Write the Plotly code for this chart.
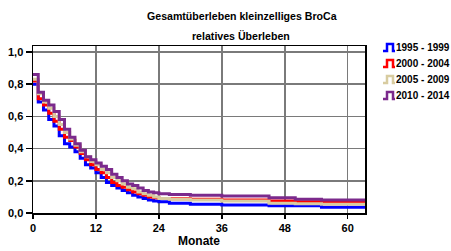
import plotly.graph_objects as go

series_names = ["1995 - 1999", "2000 - 2004", "2005 - 2009", "2010 - 2014"]
series_colors = ["#0000FF", "#FF0000", "#D8CCA0", "#7B2A8C"]

months = [0, 1, 2, 3, 4, 5, 6, 7, 8, 9, 10, 11, 12, 13, 14, 15, 16, 17, 18, 19, 20,
          21, 22, 23, 24, 26, 30, 36, 45, 50, 55, 63.5]

surv_1995 = [0.80, 0.69, 0.64, 0.58, 0.54, 0.48, 0.43, 0.41, 0.38, 0.34, 0.30, 0.28, 0.25,
             0.22, 0.19, 0.17, 0.155, 0.14, 0.125, 0.11, 0.10, 0.09, 0.08, 0.075, 0.07,
             0.06, 0.055, 0.05, 0.045, 0.045, 0.035, 0.035]
surv_2000 = [0.82, 0.71, 0.67, 0.62, 0.57, 0.52, 0.47, 0.45, 0.41, 0.37, 0.33, 0.30, 0.27,
             0.25, 0.22, 0.19, 0.17, 0.16, 0.145, 0.13, 0.12, 0.11, 0.10, 0.095, 0.09,
             0.088, 0.085, 0.08, 0.075, 0.07, 0.065, 0.065]
surv_2005 = [0.83, 0.74, 0.69, 0.65, 0.60, 0.55, 0.50, 0.46, 0.42, 0.38, 0.35, 0.32, 0.30,
             0.27, 0.25, 0.22, 0.20, 0.18, 0.16, 0.15, 0.13, 0.12, 0.11, 0.10, 0.09,
             0.085, 0.08, 0.075, 0.06, 0.058, 0.055, 0.055]
surv_2010 = [0.86, 0.75, 0.70, 0.67, 0.63, 0.58, 0.52, 0.47, 0.43, 0.39, 0.35, 0.33, 0.31,
             0.29, 0.27, 0.24, 0.22, 0.20, 0.18, 0.17, 0.155, 0.14, 0.13, 0.125, 0.12,
             0.115, 0.11, 0.105, 0.095, 0.085, 0.08, 0.08]

x_ticks = [0, 12, 24, 36, 48, 60]
y_ticks = [0.0, 0.2, 0.4, 0.6, 0.8, 1.0]

W, H = 451, 251
ML, MR, MT, MB = 33, 86, 46, 38
PW, PH = W - ML - MR, H - MT - MB
font_family = "Liberation Sans, Arial, sans-serif"


def px_to_paper(x, y):
    return (x - ML) / PW, (H - MB - y) / PH


fig = go.Figure()
for name, color, vals in zip(series_names, series_colors,
                             [surv_1995, surv_2000, surv_2005, surv_2010]):
    fig.add_trace(go.Scatter(x=months, y=vals, mode="lines", name=name,
                             showlegend=False, hoverinfo="skip",
                             line=dict(color=color, width=3, shape="hv")))

annotations = []
shapes = []
tx, ty = px_to_paper(242, 16)
annotations.append(dict(text="<b>Gesamtüberleben kleinzelliges BroCa</b>", x=tx, y=ty,
                        xref="paper", yref="paper", showarrow=False,
                        xanchor="center", yanchor="middle",
                        font=dict(family=font_family, size=10.6, color="black")))
tx, ty = px_to_paper(241, 36)
annotations.append(dict(text="<b>relatives Überleben</b>", x=tx, y=ty,
                        xref="paper", yref="paper", showarrow=False,
                        xanchor="center", yanchor="middle",
                        font=dict(family=font_family, size=10.6, color="black")))

# custom legend
for i, (name, color) in enumerate(zip(series_names, series_colors)):
    cy = 47 + 16 * i
    lx, ly = px_to_paper(394, cy)
    annotations.append(dict(text="<b>" + name + "</b>", x=lx, y=ly, xref="paper", yref="paper",
                            xanchor="left", yanchor="middle", showarrow=False,
                            font=dict(family=font_family, size=10, color="black")))
    ax, ay = px_to_paper(383, cy)
    shapes.append(dict(type="path", xref="paper", yref="paper",
                       xsizemode="pixel", ysizemode="pixel", xanchor=ax, yanchor=ay,
                       path="M 0,-4 L 4,-4 L 4,3 L 10,3 L 10,-4 L 12,-4",
                       line=dict(color=color, width=2.5)))

fig.update_layout(
    width=W, height=H,
    margin=dict(l=ML, r=MR, t=MT, b=MB, autoexpand=False),
    paper_bgcolor="white", plot_bgcolor="white",
    separators=",.",
    font=dict(family=font_family, size=11, color="black"),
    showlegend=False,
    hovermode=False,
    annotations=annotations,
    shapes=shapes,
)

fig.update_xaxes(range=[0, 63.3], tickvals=x_ticks, ticks="outside", ticklen=4,
                 tickwidth=1.5, tickcolor="black",
                 showgrid=True, gridcolor="#7a7a7a", gridwidth=1.5,
                 showline=True, linecolor="black", linewidth=1.5, mirror=True,
                 zeroline=False,
                 tickfont=dict(family=font_family, size=11, weight="bold"),
                 title=dict(text="<b>Monate</b>", standoff=4,
                            font=dict(family=font_family, size=12)))
fig.update_yaxes(range=[0, 1.037], tickvals=y_ticks, tickformat=".1f", ticks="outside",
                 ticklen=6, tickwidth=1.5, tickcolor="black",
                 showgrid=True, gridcolor="#7a7a7a", gridwidth=1.5,
                 showline=True, linecolor="black", linewidth=1.5, mirror=True,
                 zeroline=False,
                 tickfont=dict(family=font_family, size=11, weight="bold"))

fig.write_html("out.html", config={"displayModeBar": False, "staticPlot": True},
               post_script="document.body.style.margin='0';document.body.style.overflow='hidden';")
